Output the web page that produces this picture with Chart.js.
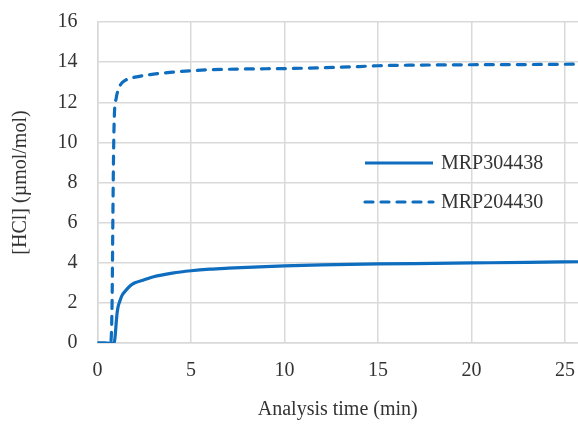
<!DOCTYPE html>
<html>
<head>
<meta charset="utf-8">
<script src="https://cdn.jsdelivr.net/npm/chart.js@4/dist/chart.umd.min.js"></script>
<style>
html,body{margin:0;padding:0;background:#fff;}
#wrap{width:578px;height:426px;}
</style>
</head>
<body>
<div id="wrap"><canvas id="c" width="578" height="426"></canvas></div>
<script>
const seriesNames = ['MRP304438', 'MRP204430'];
const xTitle = 'Analysis time (min)';
const yTitle = '[HCl] (\u00b5mol/mol)';

const solidX = [0, 0.8, 0.9, 0.95, 1.0, 1.05, 1.1, 1.2, 1.3, 1.5, 1.75, 2.0, 2.5, 3, 4, 5, 6, 7, 8, 10, 12, 15, 18, 20, 23, 25.7];
const solidY = [0, 0, 0.05, 0.4, 1.0, 1.5, 1.8, 2.1, 2.35, 2.6, 2.85, 3.0, 3.15, 3.3, 3.48, 3.6, 3.68, 3.73, 3.77, 3.84, 3.89, 3.94, 3.97, 3.99, 4.02, 4.05];

const dashX = [0, 0.7, 0.78, 0.82, 0.86, 0.9, 1.0, 1.1, 1.25, 1.5, 2.0, 3, 4, 5, 6, 8, 10, 12, 14, 15, 17, 20, 23, 25.7];
const dashY = [0, 0, 2, 6, 9.5, 11.3, 12.2, 12.6, 12.9, 13.1, 13.25, 13.4, 13.5, 13.57, 13.62, 13.66, 13.68, 13.72, 13.78, 13.82, 13.85, 13.87, 13.88, 13.9];

const xTicks = [0, 5, 10, 15, 20, 25];
const yTicks = [0, 2, 4, 6, 8, 10, 12, 14, 16];

const toPts = (xs, ys) => xs.map((x, i) => ({x: x, y: ys[i]}));

const BLUE = '#0E6DBE';
const GRID = '#d9d9d9';
const TXT = '#333333';
const FONT = {family: '"Liberation Serif", "Times New Roman", serif', size: 20};

const legendPlugin = {
  id: 'customLegend',
  afterDraw(chart, args, opts) {
    const ctx = chart.ctx;
    ctx.save();
    chart.data.datasets.forEach((ds, i) => {
      const y = opts.y0 + i * opts.dy;
      ctx.beginPath();
      ctx.strokeStyle = ds.borderColor;
      ctx.lineWidth = ds.borderWidth;
      ctx.lineCap = ds.borderCapStyle || 'butt';
      ctx.setLineDash(ds.borderDash || []);
      ctx.moveTo(opts.x0, y);
      ctx.lineTo(opts.x1, y);
      ctx.stroke();
      ctx.setLineDash([]);
      ctx.fillStyle = TXT;
      ctx.font = FONT.size + 'px ' + FONT.family;
      ctx.textBaseline = 'middle';
      ctx.textAlign = 'left';
      ctx.fillText(ds.label, opts.tx, y + 1);
    });
    ctx.restore();
  }
};

new Chart(document.getElementById('c'), {
  type: 'line',
  data: {
    datasets: [
      {label: seriesNames[0], data: toPts(solidX, solidY), borderColor: BLUE, borderWidth: 3.2,
       pointRadius: 0, cubicInterpolationMode: 'monotone', fill: false, borderCapStyle: 'butt'},
      {label: seriesNames[1], data: toPts(dashX, dashY), borderColor: BLUE, borderWidth: 3.2,
       borderDash: [8, 8], borderCapStyle: 'round',
       pointRadius: 0, cubicInterpolationMode: 'monotone', fill: false}
    ]
  },
  options: {
    responsive: false,
    animation: false,
    devicePixelRatio: 1,
    layout: {padding: {top: 22, right: 0, left: 0, bottom: 0}},
    plugins: {
      legend: {display: false},
      tooltip: {enabled: false},
      customLegend: {x0: 365, x1: 433, tx: 441, y0: 163, dy: 39}
    },
    scales: {
      x: {
        type: 'linear', min: 0, max: 25.7,
        afterBuildTicks: s => { s.ticks = xTicks.map(v => ({value: v})); },
        afterFit: s => { s.height = 83; s.paddingLeft = 0; s.paddingRight = 0; },
        grid: {color: GRID, lineWidth: 1.5, drawTicks: false},
        border: {color: GRID, width: 1.5},
        ticks: {font: FONT, color: TXT, padding: 16, maxRotation: 0, autoSkip: false},
        title: {display: true, text: xTitle, font: FONT, color: TXT, padding: {top: 0, bottom: 4}}
      },
      y: {
        type: 'linear', min: 0, max: 16,
        afterBuildTicks: s => { s.ticks = yTicks.map(v => ({value: v})); },
        afterFit: s => { s.width = 97.5; s.paddingTop = 0; s.paddingBottom = 0; },
        grid: {color: GRID, lineWidth: 1.5, drawTicks: false},
        border: {color: GRID, width: 1.5},
        ticks: {font: FONT, color: TXT, padding: 20, autoSkip: false},
        title: {display: true, text: yTitle, font: FONT, color: TXT, padding: {top: 9, bottom: 0}}
      }
    }
  },
  plugins: [legendPlugin]
});
</script>
</body>
</html>
